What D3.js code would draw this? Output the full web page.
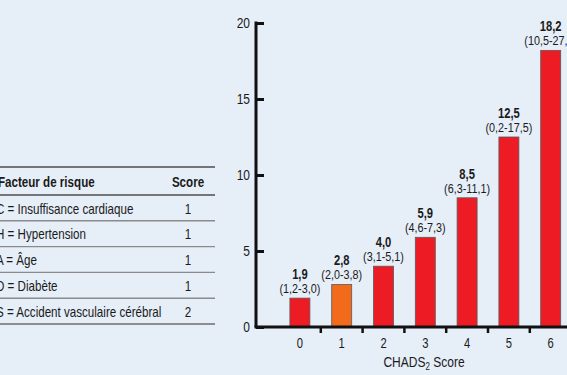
<!DOCTYPE html>
<html>
<head>
<meta charset="utf-8">
<script src="https://cdn.jsdelivr.net/npm/d3@7"></script>
<style>
  html, body { margin: 0; padding: 0; background: #e6eef8; }
  svg { display: block; font-family: "Liberation Sans", Arial, sans-serif; }
</style>
</head>
<body>
<div id="chart"></div>
<script>
// data
const scores = ['0', '1', '2', '3', '4', '5', '6']
const rates = [1.9, 2.8, 4.0, 5.9, 8.5, 12.5, 18.2]
const ranges = ['(1,2-3,0)', '(2,0-3,8)', '(3,1-5,1)', '(4,6-7,3)', '(6,3-11,1)', '(0,2-17,5)', '(10,5-27,4)']
const yTicks = [0, 5, 10, 15, 20]
const factors = ['C = Insuffisance cardiaque', 'H = Hypertension', 'A = Âge', 'D = Diabète', 'S = Accident vasculaire cérébral']
const factorScores = ['1', '1', '1', '1', '2']

const w = 567
const h = 375
const sx = 0.8   // the source font is a condensed one
const fmt = v => v.toFixed(1).replace('.', ',')

// place a text squeezed horizontally at (x, y)
function place(sel, fx, fy) {
    sel.attr('transform', (d, i) => `translate(${fx(d, i)},${fy(d, i)}) scale(${sx},1)`)
}

const svg = d3.select('#chart')
    .append('svg')
    .attr('width', w)
    .attr('height', h)

svg.append('rect').attr('width', w).attr('height', h).attr('fill', '#e6eef8')

// ---- table
const table = svg.append('g')
const rowY = d3.scaleBand().domain(d3.range(factors.length)).range([195, 324])

table.append('line').attr('x1', 0).attr('x2', 215).attr('y1', 167).attr('y2', 167)
    .attr('stroke', '#4d4d4d').attr('stroke-width', 1.6)
table.append('line').attr('x1', 0).attr('x2', 215).attr('y1', 195).attr('y2', 195)
    .attr('stroke', '#4d4d4d').attr('stroke-width', 1.4)
table.append('text')
    .attr('font-size', 14.5).attr('font-weight', 'bold').attr('fill', '#1a1a1a')
    .text('Facteur de risque')
    .call(place, () => -2, () => 187)
table.append('text').attr('text-anchor', 'middle')
    .attr('font-size', 14.5).attr('font-weight', 'bold').attr('fill', '#1a1a1a')
    .text('Score')
    .call(place, () => 188, () => 187)

const rows = table.selectAll('g.row')
    .data(factors)
    .enter()
    .append('g')
    .attr('class', 'row')
rows.append('text')
    .attr('font-size', 14.5)
    .attr('fill', '#1a1a1a')
    .text(d => d)
    .call(place, () => -4, (d, i) => rowY(i) + 18.5)
rows.append('text')
    .attr('text-anchor', 'middle')
    .attr('font-size', 14.5)
    .attr('fill', '#1a1a1a')
    .text((d, i) => factorScores[i])
    .call(place, () => 188, (d, i) => rowY(i) + 18.5)
rows.append('line')
    .attr('x1', 0).attr('x2', 215)
    .attr('y1', (d, i) => rowY(i) + rowY.bandwidth())
    .attr('y2', (d, i) => rowY(i) + rowY.bandwidth())
    .attr('stroke', (d, i) => i === factors.length - 1 ? '#6d6d6d' : '#8a8a8a')
    .attr('stroke-width', 1.4)

// ---- bar chart
const axisX = 256
const y = d3.scaleLinear().domain([0, 20]).range([327, 23])
const x = d3.scaleBand().domain(scores).range([279, 279 + 7 * 41.8])
const cx = d => x(d) + x.bandwidth() / 2

const chart = svg.append('g')

chart.selectAll('rect.bar')
    .data(rates)
    .enter()
    .append('rect')
    .attr('class', 'bar')
    .attr('x', (d, i) => cx(scores[i]) - 10)
    .attr('y', d => y(d))
    .attr('width', 20)
    .attr('height', d => y(0) - y(d))
    .attr('fill', (d, i) => i === 1 ? '#f26a1b' : '#ed1c24')
    .attr('stroke', '#5a5a5a')
    .attr('stroke-width', 0.8)

chart.selectAll('text.val')
    .data(rates)
    .enter()
    .append('text')
    .attr('class', 'val')
    .attr('text-anchor', 'middle')
    .attr('font-size', 14)
    .attr('font-weight', 'bold')
    .attr('fill', '#1a1a1a')
    .text(d => fmt(d))
    .call(place, (d, i) => cx(scores[i]), d => y(d) - 19)

chart.selectAll('text.rng')
    .data(ranges)
    .enter()
    .append('text')
    .attr('class', 'rng')
    .attr('text-anchor', 'middle')
    .attr('font-size', 13.5)
    .attr('fill', '#1a1a1a')
    .text(d => d)
    .call(place, (d, i) => cx(scores[i]), (d, i) => y(rates[i]) - 5)

// y axis
const yAxis = chart.append('g')
    .attr('transform', `translate(${axisX},0)`)
    .call(d3.axisRight(y).tickValues(yTicks).tickSize(8).tickFormat(''))
yAxis.select('.domain').remove()
yAxis.selectAll('line').attr('stroke', '#111').attr('stroke-width', 3)
yAxis.append('line').attr('x1', 0).attr('x2', 0).attr('y1', y(20) - 1.5).attr('y2', y(0))
    .attr('stroke', '#111').attr('stroke-width', 3)
chart.selectAll('text.ytick')
    .data(yTicks)
    .enter()
    .append('text')
    .attr('class', 'ytick')
    .attr('text-anchor', 'end')
    .attr('font-size', 15)
    .attr('fill', '#1a1a1a')
    .text(d => d)
    .call(place, () => axisX - 6, d => y(d) + 5)

// x axis
chart.append('line')
    .attr('x1', axisX - 1.5).attr('x2', w)
    .attr('y1', y(0)).attr('y2', y(0))
    .attr('stroke', '#111').attr('stroke-width', 3)
chart.selectAll('line.xtick')
    .data(scores.slice(1))
    .enter()
    .append('line')
    .attr('class', 'xtick')
    .attr('x1', d => x(d)).attr('x2', d => x(d))
    .attr('y1', y(0)).attr('y2', y(0) + 6)
    .attr('stroke', '#111').attr('stroke-width', 2.5)
chart.selectAll('text.xlab')
    .data(scores)
    .enter()
    .append('text')
    .attr('class', 'xlab')
    .attr('text-anchor', 'middle')
    .attr('font-size', 14)
    .attr('fill', '#1a1a1a')
    .text(d => d)
    .call(place, d => cx(d), () => 348)

const title = chart.append('text')
    .attr('text-anchor', 'middle')
    .attr('font-size', 15)
    .attr('fill', '#1a1a1a')
    .call(place, () => 424, () => 367)
title.append('tspan').text('CHADS')
title.append('tspan').attr('font-size', 10).attr('dy', 3).text('2')
title.append('tspan').attr('dy', -3).text(' Score')
</script>
</body>
</html>
